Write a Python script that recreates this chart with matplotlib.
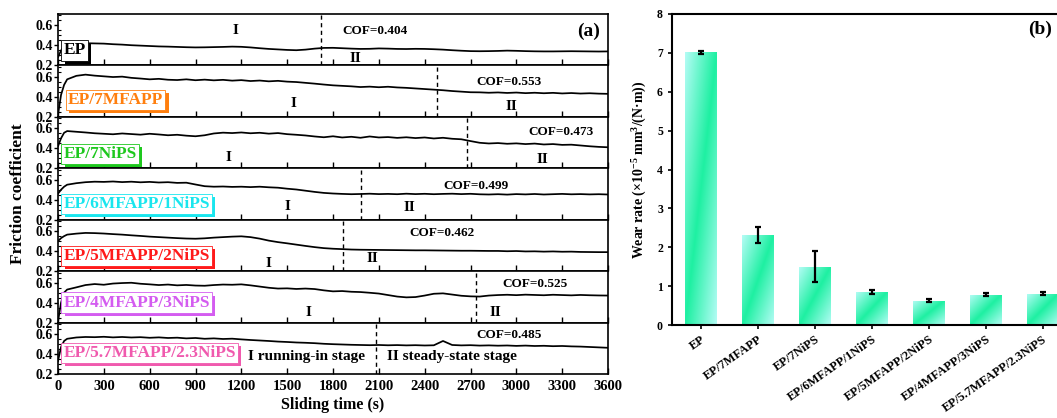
import matplotlib
matplotlib.use('Agg')
import matplotlib.pyplot as plt
import matplotlib.patheffects as pe
import numpy as np
from matplotlib.colors import to_rgb
from matplotlib.ticker import MultipleLocator

plt.rcParams.update({
    'font.family': ['Liberation Serif', 'DejaVu Serif'],
    'font.weight': 'bold',
    'axes.labelweight': 'bold',
    'mathtext.default': 'regular',
    'axes.linewidth': 1.2,
})

# ---- data: friction curves (sampled every 60 s after a short run-in) ----
t = np.concatenate([[0, 20, 40], np.arange(60, 3601, 60)])

cof_ep = [
    0.28, 0.35, 0.39, 0.41, 0.42, 0.422, 0.42, 0.418, 0.412, 0.408,
    0.402, 0.398, 0.394, 0.39, 0.388, 0.385, 0.382, 0.38, 0.381, 0.383,
    0.385, 0.388, 0.386, 0.38, 0.372, 0.365, 0.36, 0.355, 0.352, 0.358,
    0.368, 0.375, 0.376, 0.372, 0.368, 0.365, 0.366, 0.37, 0.368, 0.365,
    0.364, 0.366, 0.365, 0.362, 0.358, 0.352, 0.347, 0.343, 0.342, 0.343,
    0.345, 0.348, 0.346, 0.343, 0.341, 0.34, 0.34, 0.341, 0.342, 0.341,
    0.34, 0.339, 0.34]
cof_7mfapp = [
    0.22, 0.42, 0.52, 0.575, 0.61, 0.622, 0.612, 0.605, 0.598, 0.602,
    0.59, 0.583, 0.575, 0.58, 0.571, 0.568, 0.575, 0.566, 0.572, 0.565,
    0.57, 0.562, 0.567, 0.558, 0.563, 0.555, 0.56, 0.552, 0.548, 0.54,
    0.532, 0.523, 0.515, 0.51, 0.505, 0.498, 0.502, 0.496, 0.501, 0.494,
    0.49, 0.484, 0.478, 0.472, 0.466, 0.458, 0.452, 0.446, 0.445, 0.441,
    0.444, 0.439, 0.443, 0.437, 0.441, 0.436, 0.44, 0.434, 0.438, 0.433,
    0.436, 0.432, 0.43]
cof_7nips = [
    0.42, 0.50, 0.555, 0.572, 0.565, 0.558, 0.55, 0.545, 0.54, 0.548,
    0.542, 0.536, 0.545, 0.538, 0.53, 0.535, 0.526, 0.52, 0.53, 0.548,
    0.556, 0.552, 0.558, 0.55, 0.555, 0.546, 0.552, 0.541, 0.535, 0.528,
    0.518, 0.51, 0.52, 0.508, 0.515, 0.505, 0.518, 0.508, 0.512, 0.504,
    0.51, 0.502, 0.508, 0.498, 0.505, 0.495, 0.49, 0.472, 0.455, 0.448,
    0.452, 0.445, 0.449, 0.442, 0.447, 0.438, 0.442, 0.434, 0.436, 0.428,
    0.42, 0.414, 0.41]
cof_6_1 = [
    0.46, 0.50, 0.53, 0.55, 0.565, 0.575, 0.58, 0.578, 0.582, 0.576,
    0.58, 0.574, 0.578, 0.572, 0.575, 0.568, 0.57, 0.552, 0.535, 0.53,
    0.532, 0.528, 0.53, 0.526, 0.53, 0.524, 0.52, 0.51, 0.502, 0.49,
    0.478, 0.468, 0.462, 0.458, 0.455, 0.457, 0.46, 0.456, 0.458, 0.455,
    0.46, 0.456, 0.459, 0.455, 0.458, 0.46, 0.456, 0.459, 0.454, 0.452,
    0.455, 0.451, 0.456, 0.453, 0.457, 0.452, 0.455, 0.458, 0.454, 0.456,
    0.453, 0.455, 0.452]
cof_5_2 = [
    0.50, 0.53, 0.55, 0.565, 0.575, 0.582, 0.58, 0.576, 0.57, 0.565,
    0.558, 0.552, 0.545, 0.54, 0.535, 0.53, 0.526, 0.524, 0.528, 0.535,
    0.54, 0.545, 0.548, 0.54, 0.525, 0.505, 0.49, 0.478, 0.465, 0.452,
    0.44, 0.43, 0.424, 0.42, 0.416, 0.414, 0.413, 0.412, 0.411, 0.41,
    0.409, 0.408, 0.408, 0.407, 0.406, 0.405, 0.404, 0.404, 0.403, 0.402,
    0.402, 0.399, 0.401, 0.397, 0.398, 0.395, 0.397, 0.394, 0.395, 0.392,
    0.391, 0.39, 0.39]
cof_4_3 = [
    0.21, 0.40, 0.50, 0.53, 0.552, 0.575, 0.585, 0.578, 0.59, 0.595,
    0.598, 0.588, 0.582, 0.575, 0.58, 0.572, 0.576, 0.57, 0.568, 0.575,
    0.58, 0.578, 0.582, 0.572, 0.56, 0.548, 0.54, 0.542, 0.536, 0.54,
    0.535, 0.522, 0.512, 0.515, 0.508, 0.505, 0.498, 0.49, 0.475, 0.46,
    0.452, 0.455, 0.47, 0.488, 0.492, 0.48, 0.468, 0.462, 0.46, 0.47,
    0.475, 0.478, 0.474, 0.479, 0.476, 0.473, 0.478, 0.475, 0.472, 0.476,
    0.473, 0.471, 0.47]
cof_57_23 = [
    0.33, 0.47, 0.53, 0.552, 0.565, 0.57, 0.568, 0.572, 0.566, 0.57,
    0.565, 0.568, 0.562, 0.566, 0.56, 0.563, 0.556, 0.56, 0.552, 0.556,
    0.55, 0.553, 0.546, 0.54, 0.535, 0.53, 0.524, 0.52, 0.515, 0.512,
    0.508, 0.502, 0.498, 0.495, 0.492, 0.49, 0.488, 0.49, 0.487, 0.489,
    0.486, 0.488, 0.485, 0.487, 0.53, 0.49, 0.486, 0.488, 0.484, 0.486,
    0.483, 0.485, 0.481, 0.484, 0.48, 0.482, 0.478, 0.48, 0.476, 0.474,
    0.47, 0.466, 0.462]

curves = [cof_ep, cof_7mfapp, cof_7nips, cof_6_1, cof_5_2, cof_4_3, cof_57_23]
names = ['EP', 'EP/7MFAPP', 'EP/7NiPS', 'EP/6MFAPP/1NiPS', 'EP/5MFAPP/2NiPS',
         'EP/4MFAPP/3NiPS', 'EP/5.7MFAPP/2.3NiPS']
name_colors = ['black', '#ff7f0e', '#1ec81e', '#19e6ee', '#ff1a1a', '#d45cf0', '#f05aae']
cof_mean = [0.404, 0.553, 0.473, 0.499, 0.462, 0.525, 0.485]
transition = [1720, 2480, 2680, 1985, 1865, 2735, 2080]

# ---- data: wear rate ----
samples = ['EP', 'EP/7MFAPP', 'EP/7NiPS', 'EP/6MFAPP/1NiPS', 'EP/5MFAPP/2NiPS',
           'EP/4MFAPP/3NiPS', 'EP/5.7MFAPP/2.3NiPS']
wear = [7.02, 2.31, 1.50, 0.85, 0.63, 0.78, 0.80]
wear_err = [0.04, 0.21, 0.40, 0.06, 0.05, 0.04, 0.04]

# ---- layout (text placements per panel) ----
label_xy = [(35, 0.35), (65, 0.37), (35, 0.34), (35, 0.36), (35, 0.35), (35, 0.40), (35, 0.41)]
cof_xy = [(1860, 0.54), (2740, 0.55), (3080, 0.56), (2520, 0.54), (2300, 0.58), (2910, 0.59), (2740, 0.59)]
stage1_xy = [(1160, 0.55), (1540, 0.33), (1115, 0.31), (1505, 0.33), (1375, 0.28), (1640, 0.30)]
stage2_xy = [(1945, 0.27), (2965, 0.30), (3170, 0.29), (2300, 0.32), (2055, 0.33), (2860, 0.30)]

W, H = 1057, 418
fig = plt.figure(figsize=(W / 100, H / 100), dpi=100)

left, right, top, bottom = 58, 608, 14, 374
ph = (bottom - top) / 7
axes = []
for i in range(7):
    y0 = 1 - (top + (i + 1) * ph) / H
    ax = fig.add_axes([left / W, y0, (right - left) / W, ph / H])
    axes.append(ax)

for i, ax in enumerate(axes):
    ax.plot(t, curves[i], color='black', lw=1.25, zorder=2)
    ax.axvline(transition[i], color='black', ls=(0, (3, 2.5)), lw=1.0, zorder=1)
    ax.set_xlim(0, 3600)
    ax.set_ylim(0.2, 0.714)
    ax.set_yticks([0.2, 0.4, 0.6])
    ax.yaxis.set_minor_locator(MultipleLocator(0.05))
    ax.xaxis.set_major_locator(MultipleLocator(300))
    ax.tick_params(axis='x', direction='in', length=4, width=1, labelsize=10.5, pad=4)
    ax.tick_params(axis='y', which='major', direction='out', length=3, width=1, labelsize=10, pad=1)
    ax.tick_params(axis='y', which='minor', direction='in', length=2, width=0.8)
    if i < 6:
        ax.tick_params(axis='x', labelbottom=False)

    txt = ax.text(label_xy[i][0], label_xy[i][1], names[i], color=name_colors[i],
                  fontsize=12.5, ha='left', va='center', zorder=6,
                  bbox=dict(boxstyle='square,pad=0.12', fc='white', ec=name_colors[i], lw=0.6))
    txt.get_bbox_patch().set_path_effects([
        pe.withSimplePatchShadow(offset=(2.5, -2.2), shadow_rgbFace=name_colors[i], alpha=1.0)])

    ax.text(cof_xy[i][0], cof_xy[i][1], f'COF={cof_mean[i]:.3f}', fontsize=9.5,
            ha='left', va='center')
    if i < 6:
        ax.text(stage1_xy[i][0], stage1_xy[i][1], 'I', fontsize=11, ha='center', va='center')
        ax.text(stage2_xy[i][0], stage2_xy[i][1], 'II', fontsize=11, ha='center', va='center')

axes[-1].text(1245, 0.37, 'I running-in stage', fontsize=11, ha='left', va='center')
axes[-1].text(2155, 0.37, 'II steady-state stage', fontsize=11, ha='left', va='center')
axes[0].text(3550, 0.545, '(a)', fontsize=14, ha='right', va='center')
axes[-1].set_xlabel('Sliding time (s)', fontsize=11.5, labelpad=3)
fig.text(18 / W, 1 - 194 / H, 'Friction coefficient', rotation=90, fontsize=12.5,
         ha='center', va='center', fontweight='bold')

# ---- wear rate bars ----
bx0, bx1, by0, by1 = 672, 672 + 7 * 57, 14, 325
axb = fig.add_axes([bx0 / W, 1 - by1 / H, (bx1 - bx0) / W, (by1 - by0) / H])
x = np.arange(len(samples))
bars = axb.bar(x, wear, width=0.55, color='none', edgecolor='none', zorder=2)
light = np.array(to_rgb('#b4fcf5'))
green = np.array(to_rgb('#1ef0a2'))
u, v = np.meshgrid(np.linspace(0, 1, 60), np.linspace(0, 1, 120))
s = (u + (1 - v)) / 2
wgt = 1 - np.abs(2 * s - 1)
grad = light[None, None, :] * (1 - wgt[..., None]) + green[None, None, :] * wgt[..., None]
for b in bars:
    im = axb.imshow(grad, extent=[b.get_x(), b.get_x() + b.get_width(), 0, b.get_height()],
                    origin='lower', aspect='auto', zorder=2)
    im.set_clip_path(b)
axb.errorbar(x, wear, yerr=wear_err, fmt='none', ecolor='black', elinewidth=1.6,
             capsize=2.5, capthick=1.6, zorder=3)
axb.set_xlim(-0.5, 6.5)
axb.set_ylim(0, 8)
axb.set_yticks(range(0, 9))
axb.set_xticks(x)
axb.set_xticklabels(samples, rotation=35, ha='right', rotation_mode='anchor', fontsize=9)
axb.tick_params(axis='both', direction='out', length=3, width=1.2, labelsize=8.5)
axb.tick_params(axis='x', labelsize=9, pad=3)
for sp in axb.spines.values():
    sp.set_linewidth(1.5)
axb.set_ylabel('Wear rate (×10$^{-5}$ mm$^{3}$/(N·m))', fontsize=10, labelpad=6)
axb.text(5.95, 7.6, '(b)', fontsize=14, ha='center', va='center')

fig.savefig('out.png', dpi=100, facecolor='white')
